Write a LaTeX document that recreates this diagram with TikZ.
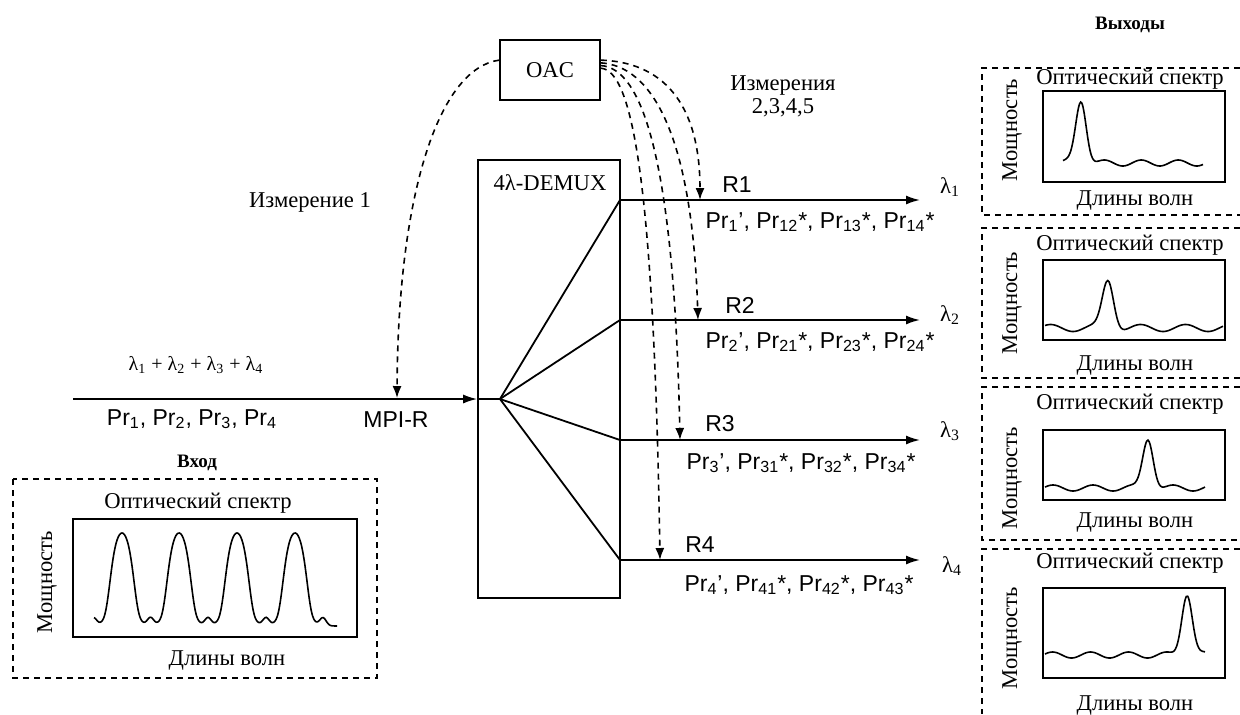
\documentclass[tikz,border=0pt]{standalone}
\usepackage{fontspec}
\setmainfont{Liberation Serif}
\setsansfont{Liberation Sans}
\usetikzlibrary{arrows.meta}
\begin{document}
\begin{tikzpicture}[x=0.5pt,y=-0.5pt,
  declare function={g(\x,\c,\w)=exp(-min(((\x-\c)/\w)^2,9));
                    h(\x,\c,\w)=exp(-min(((\x-\c)/\w)^2,3)^2);
                    pk(\x,\c)=0.5*g(\x,\c,13)+0.5*h(\x,\c,13.5);},
  line/.style={line width=0.9pt},
  arr/.style={line width=0.9pt,-{Latex[length=7pt,width=4.5pt]}},
  dsh/.style={line width=0.8pt,dash pattern=on 3pt off 2.5pt},
  darr/.style={dsh,-{Latex[length=6pt,width=4.5pt]}},
  box/.style={draw,line width=0.8pt,inner sep=0pt},
  txt/.style={font=\fontsize{11.3}{13}\selectfont,inner sep=0pt},
  stxt/.style={font=\sffamily\fontsize{11.5}{13}\selectfont,inner sep=0pt},
  btxt/.style={font=\bfseries\fontsize{9.5}{11}\selectfont,inner sep=0pt},
  spec/.style={line width=0.8pt,smooth},
  frame/.style={line width=0.8pt},
]
\useasboundingbox (0,0) rectangle (1240,714);

% main blocks
\node[box,minimum width=50pt,minimum height=30pt,font=\fontsize{11.3}{13}\selectfont] (oac) at (550,70) {OAC};
\node[box,minimum width=71pt,minimum height=219pt] (demux) at (549,379) {};
\node[txt] (demuxt) at (550,183) {4λ-DEMUX};

% coordinates
\coordinate (in) at (73,399);
\coordinate (fan) at (500,399);
\coordinate (o1) at (620,200);
\coordinate (o2) at (620,320);
\coordinate (o3) at (620,440);
\coordinate (o4) at (620,560);
\coordinate (e1) at (920,200);
\coordinate (e2) at (920,320);
\coordinate (e3) at (920,440);
\coordinate (e4) at (920,560);
\coordinate (t0) at (397,398);
\coordinate (t1) at (700,200);
\coordinate (t2) at (698,320);
\coordinate (t3) at (680,440);
\coordinate (t4) at (660,560);

% input and fan
\draw[arr] (in) -- (in -| demux.west);
\draw[line] (in -| demux.west) -- (fan);
\foreach \i in {1,...,4} {
  \draw[line] (fan) -- (o\i);
  \draw[arr] (o\i) -- (e\i);
}

% dashed measurement arrows
\draw[darr] (oac.169) .. controls (440,68) and (398,190) .. (t0);
\draw[darr] (oac.11) .. controls (660,62) and (700,100) .. (t1);
\draw[darr] (oac.8) .. controls (650,66) and (692,130) .. (t2);
\draw[darr] (oac.5) .. controls (640,68) and (674,150) .. (t3);
\draw[darr] (oac.2) .. controls (632,70) and (654,180) .. (t4);

% labels
\node[txt] (m1) at (310,202) {Измерение 1};
\node[txt] (m2) at (783,85) {Измерения};
\node[txt] (m2b) at (783,108) {2,3,4,5};

\node[txt] (l1) at (950,187) {λ\textsubscript{1}};
\node[txt] (l2) at (950,315) {λ\textsubscript{2}};
\node[txt] (l3) at (950,431) {λ\textsubscript{3}};
\node[txt] (l4) at (952,566) {λ\textsubscript{4}};

\node[stxt] (r1) at (737,185) {R1};
\node[stxt] (r2) at (740,305) {R2};
\node[stxt] (r3) at (720,424) {R3};
\node[stxt] (r4) at (700,545) {R4};

\node[stxt] (p1) at (820,222) {Pr\textsubscript{1}', Pr\textsubscript{12}*, Pr\textsubscript{13}*, Pr\textsubscript{14}*};
\node[stxt] (p2) at (820,342) {Pr\textsubscript{2}', Pr\textsubscript{21}*, Pr\textsubscript{23}*, Pr\textsubscript{24}*};
\node[stxt] (p3) at (801,463) {Pr\textsubscript{3}', Pr\textsubscript{31}*, Pr\textsubscript{32}*, Pr\textsubscript{34}*};
\node[stxt] (p4) at (799,585) {Pr\textsubscript{4}', Pr\textsubscript{41}*, Pr\textsubscript{42}*, Pr\textsubscript{43}*};

\node[txt,font=\fontsize{10}{12}\selectfont] (sum) at (196,365) {λ\textsubscript{1} + λ\textsubscript{2} + λ\textsubscript{3} + λ\textsubscript{4}};
\node[stxt] (prin) at (192,419) {Pr\textsubscript{1}, Pr\textsubscript{2}, Pr\textsubscript{3}, Pr\textsubscript{4}};
\node[stxt] (mpi) at (396,420) {MPI-R};
\node[btxt] (vhod) at (197,463) {Вход};
\node[btxt] (vyh) at (1130,25) {Выходы};

% input spectrum panel
\draw[dsh] (13,479) rectangle (377,678);
\draw[frame] (73,519) rectangle (357,637);
\node[txt] (ist) at (198,503) {Оптический спектр};
\node[txt] (idl) at (227,660) {Длины волн};
\node[txt,rotate=90] (ipw) at (47,582) {Мощность};
\draw[spec] plot[domain=94:337,samples=200] (\x,{626-93*(pk(\x,122)+pk(\x,179)+pk(\x,237)+pk(\x,295))-8*(g(\x,93.5,4.5)+g(\x,150.5,4.5)+g(\x,208,4.5)+g(\x,266,4.5)+g(\x,323,4.5))});

% output panels
\draw[dsh] (1240,68) -- (982,68) -- (982,215) -- (1240,215);
\draw[dsh] (1240,228) -- (982,228) -- (982,378) -- (1240,378);
\draw[dsh] (1240,387) -- (982,387) -- (982,540) -- (1240,540);
\draw[dsh] (1240,549) -- (982,549) -- (982,714);

\draw[frame] (1043,91) rectangle (1225,182);
\draw[frame] (1043,260) rectangle (1225,340);
\draw[frame] (1043,430) rectangle (1225,500);
\draw[frame] (1043,588) rectangle (1225,678);

\node[txt] (ot1) at (1130,79) {Оптический спектр};
\node[txt] (ot2) at (1130,245) {Оптический спектр};
\node[txt] (ot3) at (1130,404) {Оптический спектр};
\node[txt] (ot4) at (1130,563) {Оптический спектр};
\node[txt] (od1) at (1135,200) {Длины волн};
\node[txt] (od2) at (1135,365) {Длины волн};
\node[txt] (od3) at (1135,522) {Длины волн};
\node[txt] (od4) at (1135,705) {Длины волн};
\node[txt,rotate=90] (op1) at (1012,130) {Мощность};
\node[txt,rotate=90] (op2) at (1012,303) {Мощность};
\node[txt,rotate=90] (op3) at (1012,478) {Мощность};
\node[txt,rotate=90] (op4) at (1012,638) {Мощность};

\draw[spec] plot[domain=1063:1203,samples=120] (\x,{163-63*g(\x,1081,7.5)-3*sin(9.7297*(\x-1095))});
\draw[spec] plot[domain=1045:1223,samples=140] (\x,{328-48*g(\x,1108,8)-3.5*sin(8*(\x-1043)+30)});
\draw[spec] plot[domain=1045:1205,samples=130] (\x,{488-50*g(\x,1148,7.5)-3*sin(9*(\x-1043))});
\draw[spec] plot[domain=1045:1205,samples=130] (\x,{655-62*g(\x,1187,7.5)-3*sin(9.4737*(\x-1043))});
\end{tikzpicture}
\end{document}
